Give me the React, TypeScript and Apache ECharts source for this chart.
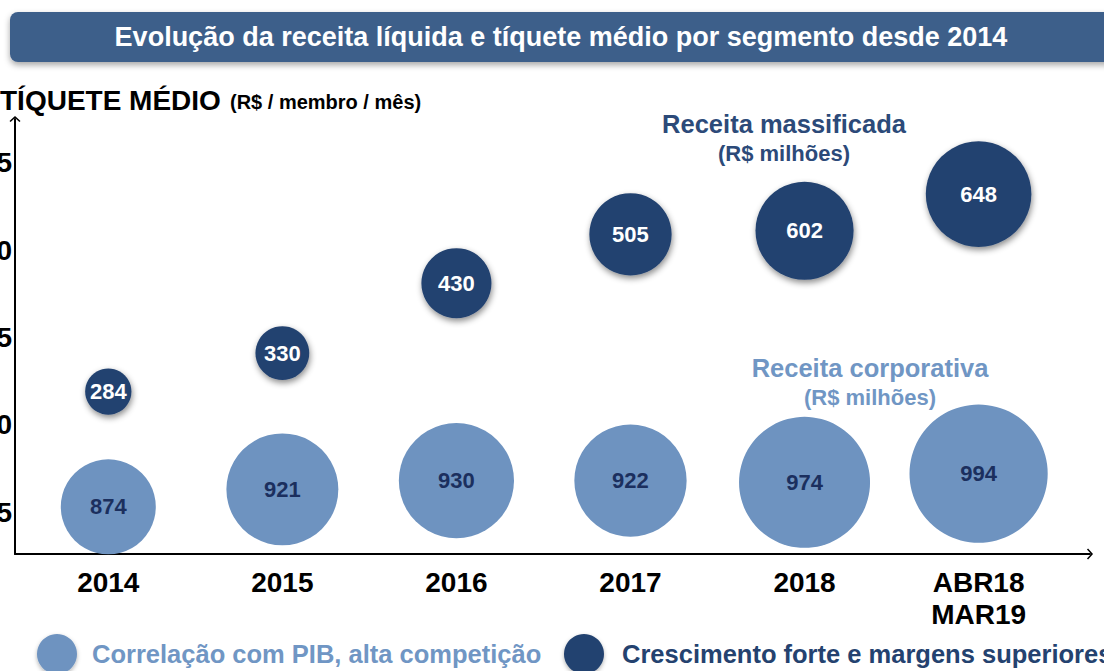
import React, { useEffect, useRef } from "react";
import * as echarts from "echarts";

const categories = ["2014", "2015", "2016", "2017", "2018", "ABR18\nMAR19"];
const massTicket = [21.9, 24.1, 28.1, 30.9, 31.1, 33.2];
const massRevenue = [284, 330, 430, 505, 602, 648];
const corpTicket = [15.3, 16.3, 16.8, 16.8, 16.7, 17.2];
const corpRevenue = [874, 921, 930, 922, 974, 994];
const yTicks = [15, 20, 25, 30, 35];

const FONT = "'Liberation Sans', Arial, sans-serif";
const DARK = "#24426f";
const LIGHT = "#6e93c0";
const CHEVRON = "path://M0,0 L10,9 L8,11 L0,3.6 L-8,11 L-10,9 Z";

export default function App() {
  const ref = useRef<HTMLDivElement>(null);
  useEffect(() => {
    if (!ref.current) return;
    const chart = echarts.init(ref.current, undefined, { renderer: "svg" });
    const massData = categories.map((c, i) => [i, massTicket[i], massRevenue[i]]);
    const corpData = categories.map((c, i) => [i, corpTicket[i], corpRevenue[i]]);
    chart.setOption({
      animation: false,
      textStyle: { fontFamily: FONT },
      grid: {
        left: 15,
        right: 14,
        top: 119,
        bottom: 117,
        containLabel: false,
        outerBoundsMode: "none",
      },
      xAxis: {
        type: "value",
        min: -0.536,
        max: 5.64,
        splitLine: { show: false },
        axisTick: { show: false },
        axisLine: {
          onZero: false,
          lineStyle: { color: "#000", width: 2 },
          symbol: ["none", CHEVRON],
          symbolSize: [11, 9],
        },
        axisLabel: {
          customValues: categories.map((c, i) => i),
          formatter: (v: number) => categories[Math.round(v)] ?? "",
          color: "#000",
          fontWeight: "bold",
          fontSize: 28,
          lineHeight: 32,
          margin: 12,
          fontFamily: FONT,
        },
      },
      yAxis: {
        type: "value",
        min: 12.6,
        max: 37.5,
        splitLine: { show: false },
        axisTick: { show: false },
        axisLine: {
          onZero: false,
          lineStyle: { color: "#000", width: 2 },
          symbol: ["none", CHEVRON],
          symbolSize: [11, 9],
        },
        axisLabel: {
          customValues: yTicks,
          formatter: (v: number) => String(v),
          color: "#000",
          fontWeight: "bold",
          fontSize: 28,
          margin: 3,
          fontFamily: FONT,
        },
      },
      series: [
        {
          name: "Receita corporativa",
          type: "scatter",
          data: corpData,
          symbolSize: (v: number[]) => 95 + 0.36 * (v[2] - 874),
          itemStyle: { color: LIGHT, opacity: 1 },
          label: {
            show: true,
            position: "inside",
            formatter: (p: any) => String(p.value[2]),
            color: "#1b2f5e",
            fontWeight: "bold",
            fontSize: 22,
            fontFamily: FONT,
          },
          z: 2,
        },
        {
          name: "Receita massificada",
          type: "scatter",
          data: massData,
          symbolSize: (v: number[]) => 0.163 * v[2],
          itemStyle: {
            color: DARK,
            opacity: 1,
            shadowBlur: 6,
            shadowColor: "rgba(0,0,0,0.45)",
            shadowOffsetX: 1,
            shadowOffsetY: 3,
          },
          label: {
            show: true,
            position: "inside",
            formatter: (p: any) => String(p.value[2]),
            color: "#ffffff",
            fontWeight: "bold",
            fontSize: 22,
            fontFamily: FONT,
          },
          z: 3,
        },
      ],
      graphic: [
        {
          type: "rect",
          shape: { x: 10, y: 12, width: 1120, height: 50, r: 8 },
          style: {
            fill: "#3e5f8a",
            shadowBlur: 6,
            shadowColor: "rgba(0,0,0,0.35)",
            shadowOffsetY: 3,
          },
          z: 10,
        },
        {
          type: "text",
          x: 561,
          y: 37,
          style: {
            text: "Evolução da receita líquida e tíquete médio por segmento desde 2014",
            fill: "#ffffff",
            font: `bold 27px ${FONT}`,
            align: "center",
            verticalAlign: "middle",
          },
          z: 11,
        },
        {
          type: "text",
          x: 0,
          y: 100,
          style: {
            text: "TÍQUETE MÉDIO",
            fill: "#000",
            font: `bold 28px ${FONT}`,
            verticalAlign: "middle",
          },
          z: 11,
        },
        {
          type: "text",
          x: 230,
          y: 102,
          style: {
            text: "(R$ / membro / mês)",
            fill: "#000",
            font: `bold 20px ${FONT}`,
            verticalAlign: "middle",
          },
          z: 11,
        },
        {
          type: "text",
          x: 784,
          y: 124,
          style: {
            text: "Receita massificada",
            fill: "#2c4a79",
            font: `bold 25.5px ${FONT}`,
            align: "center",
            verticalAlign: "middle",
          },
          z: 11,
        },
        {
          type: "text",
          x: 784,
          y: 153,
          style: {
            text: "(R$ milhões)",
            fill: "#2c4a79",
            font: `bold 22px ${FONT}`,
            align: "center",
            verticalAlign: "middle",
          },
          z: 11,
        },
        {
          type: "text",
          x: 870,
          y: 368,
          style: {
            text: "Receita corporativa",
            fill: "#7096c4",
            font: `bold 25.5px ${FONT}`,
            align: "center",
            verticalAlign: "middle",
          },
          z: 11,
        },
        {
          type: "text",
          x: 870,
          y: 397,
          style: {
            text: "(R$ milhões)",
            fill: "#7096c4",
            font: `bold 22px ${FONT}`,
            align: "center",
            verticalAlign: "middle",
          },
          z: 11,
        },
        {
          type: "circle",
          shape: { cx: 57, cy: 654, r: 20 },
          style: { fill: LIGHT, shadowBlur: 4, shadowColor: "rgba(0,0,0,0.3)", shadowOffsetY: 2 },
          z: 11,
        },
        {
          type: "text",
          x: 92,
          y: 654,
          style: {
            text: "Correlação com PIB, alta competição",
            fill: "#7096c4",
            font: `bold 25.5px ${FONT}`,
            verticalAlign: "middle",
          },
          z: 11,
        },
        {
          type: "circle",
          shape: { cx: 584, cy: 654, r: 20 },
          style: { fill: DARK, shadowBlur: 4, shadowColor: "rgba(0,0,0,0.3)", shadowOffsetY: 2 },
          z: 11,
        },
        {
          type: "text",
          x: 622,
          y: 654,
          style: {
            text: "Crescimento forte e margens superiores",
            fill: "#24426f",
            font: `bold 25.5px ${FONT}`,
            verticalAlign: "middle",
          },
          z: 11,
        },
      ],
    });
    return () => chart.dispose();
  }, []);
  return (
    <div
      ref={ref}
      style={{ position: "absolute", left: 0, top: 0, width: 1104, height: 671, overflow: "hidden" }}
    />
  );
}
